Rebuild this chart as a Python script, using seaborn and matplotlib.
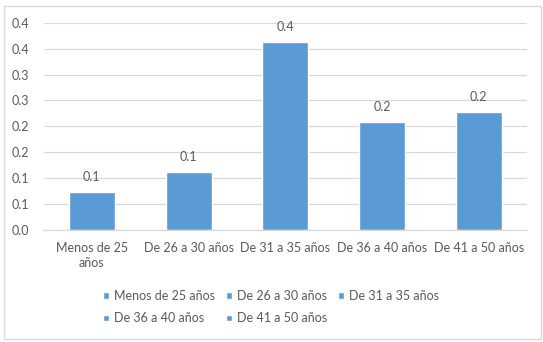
import pandas as pd
import seaborn as sns
import matplotlib.pyplot as plt
from matplotlib.patches import Rectangle

# Data
grupos = ["Menos de 25 años", "De 26 a 30 años", "De 31 a 35 años",
          "De 36 a 40 años", "De 41 a 50 años"]
etiquetas_x = ["Menos de 25\naños", "De 26 a 30 años", "De 31 a 35 años",
               "De 36 a 40 años", "De 41 a 50 años"]
valores = [0.074, 0.112, 0.362, 0.208, 0.228]
y_ticks = [0.0, 0.05, 0.10, 0.15, 0.20, 0.25, 0.30, 0.35, 0.40]
y_labels = ["0.0", "0.1", "0.1", "0.2", "0.2", "0.3", "0.3", "0.4", "0.4"]

df = pd.DataFrame({"Grupo": grupos, "Valor": valores})

azul = "#5B9BD5"
gris_txt = "#595959"
gris_lin = "#D9D9D9"

sns.set_style("white")
plt.rcParams["font.family"] = ["Lato", "DejaVu Sans"]

fig = plt.figure(figsize=(5.43, 3.42), dpi=100)
ax = fig.add_axes([43.5 / 543, 1 - 230 / 342, (527 - 43.5) / 543, (230 - 22.7) / 342])

sns.barplot(data=df, x="Grupo", y="Valor", hue="Grupo", order=grupos,
            hue_order=grupos, palette=[azul] * 5, width=0.476, saturation=1,
            legend=True, ax=ax)

# Data labels
for cont in ax.containers:
    ax.bar_label(cont, fmt="%.1f", padding=6.5, color=gris_txt, fontsize=9)

ax.set_ylim(0, 0.40)
ax.set_xlim(-0.5, 4.5)
ax.set_yticks(y_ticks)
ax.set_yticklabels(y_labels)
ax.set_xticks(range(len(grupos)))
ax.set_xticklabels(etiquetas_x, linespacing=1.25)
ax.set_xticks([i - 0.5 for i in range(len(grupos) + 1)], minor=True)
ax.tick_params(axis="x", which="major", length=0, pad=9, colors=gris_txt, labelsize=9)
ax.tick_params(axis="x", which="minor", length=4, color=gris_lin, direction="out")
ax.tick_params(axis="y", length=0, pad=10, colors=gris_txt, labelsize=9)
ax.set_xlabel("")
ax.set_ylabel("")

ax.yaxis.grid(True, color=gris_lin, linewidth=0.9)
ax.set_axisbelow(True)
for s in ["left", "top", "right"]:
    ax.spines[s].set_visible(False)
ax.spines["bottom"].set_color(gris_lin)
ax.spines["bottom"].set_linewidth(0.9)

# Legend: rows of 3 then 2 (matplotlib fills columns first)
handles, labels = ax.get_legend_handles_labels()
orden = [0, 3, 1, 4, 2]
ax.legend([handles[i] for i in orden], [labels[i] for i in orden],
          ncol=3, loc="center", bbox_to_anchor=(271 / 543, 1 - 307 / 342),
          bbox_transform=fig.transFigure, frameon=False, fontsize=9,
          handlelength=0.45, handleheight=0.45, handletextpad=0.4,
          columnspacing=0.9, labelspacing=0.85, labelcolor=gris_txt)

# Chart area border
fig.add_artist(Rectangle((4 / 543, 3 / 342), 537 / 543, 333 / 342,
                         transform=fig.transFigure, fill=False,
                         edgecolor=gris_lin, linewidth=1))

fig.savefig("out.png", dpi=100)
